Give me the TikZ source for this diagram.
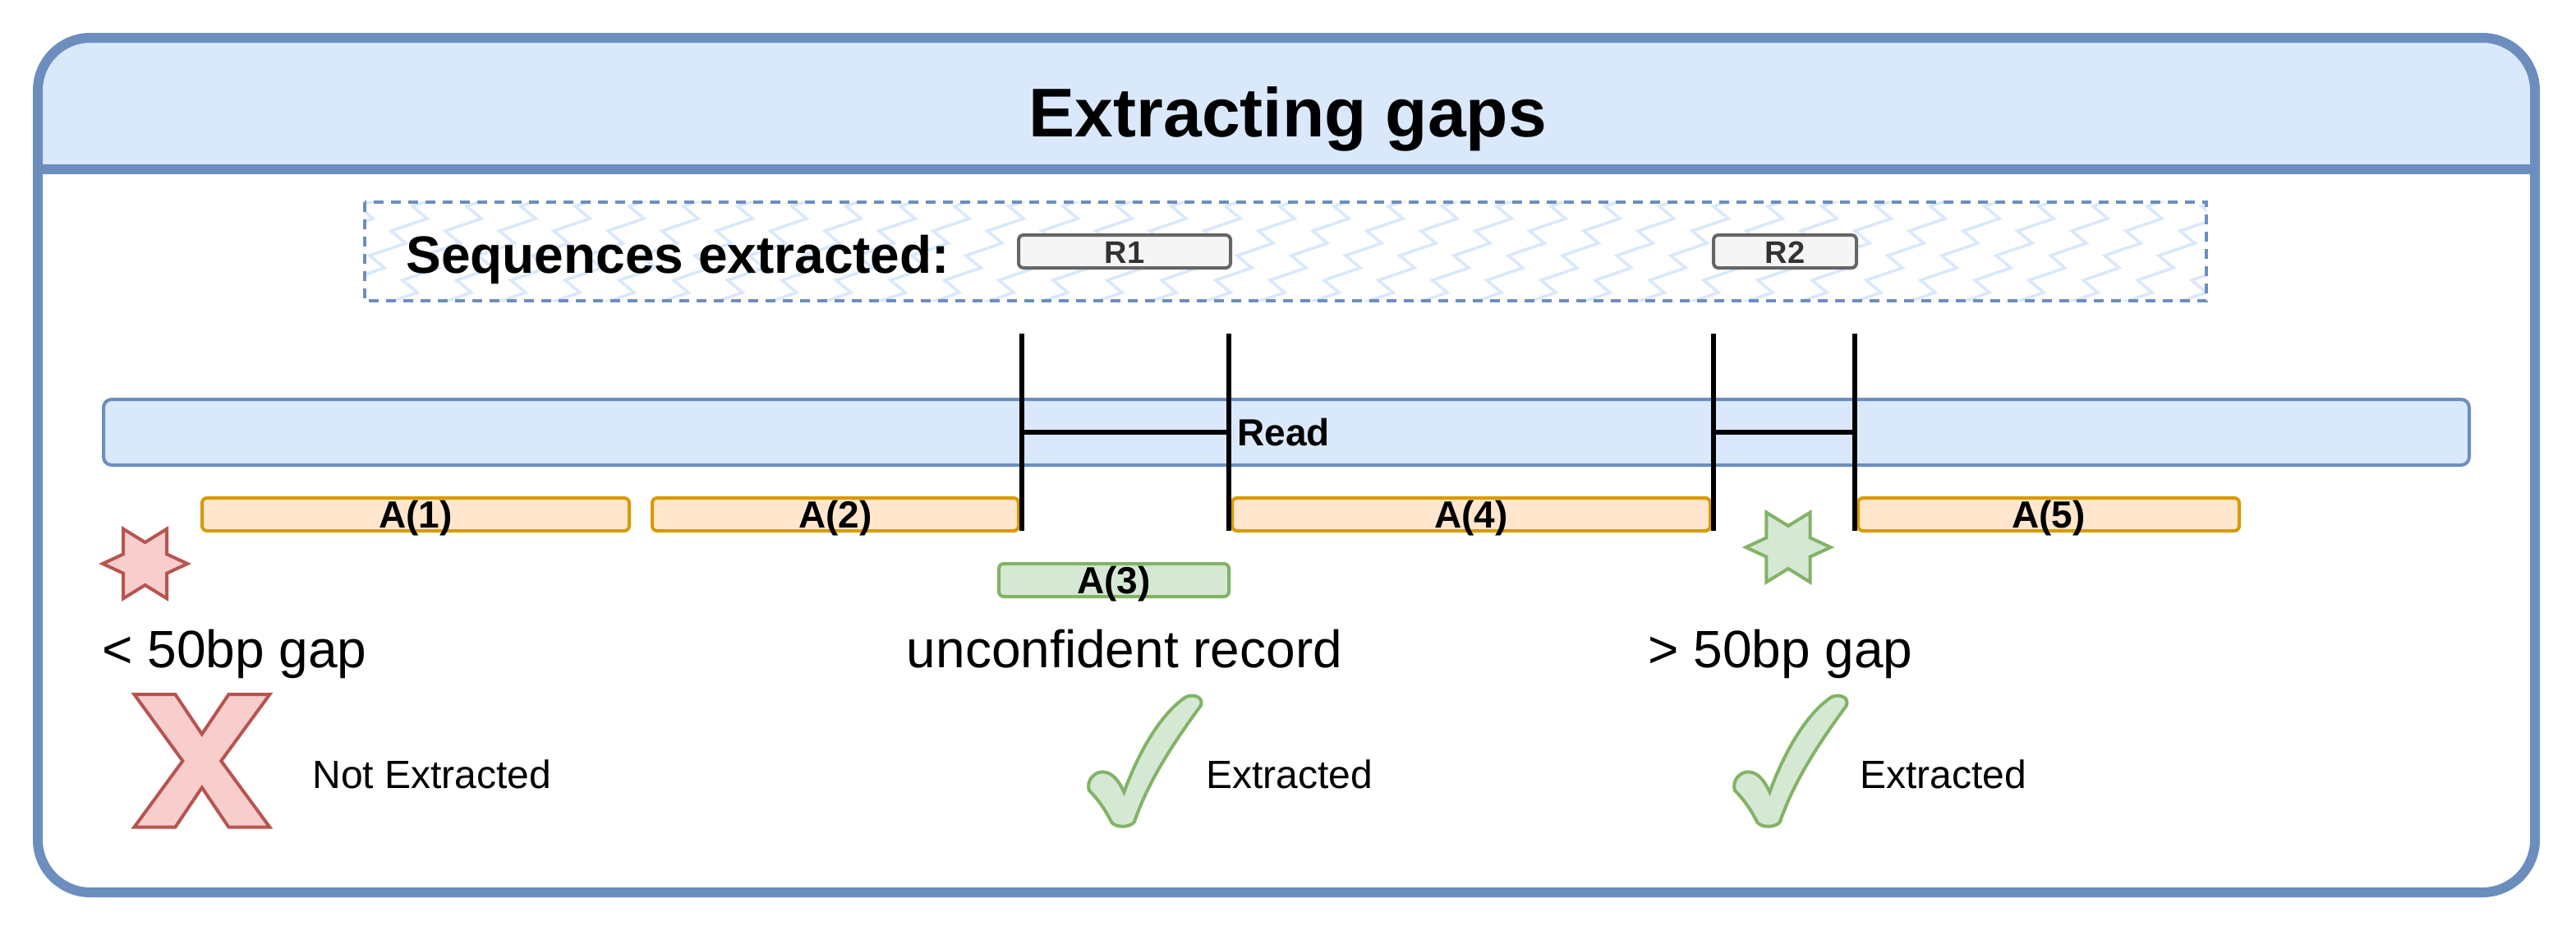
\documentclass[tikz,border=0pt]{standalone}
\usepackage{fontspec}
\setmainfont{Liberation Sans}
\usetikzlibrary{positioning}

\begin{document}
\begin{tikzpicture}[x=1pt,y=1pt,yscale=-1,xscale=1,
  frame/.style={draw={rgb, 255:red, 108; green, 142; blue, 191 }, line width=6pt},
  headfill/.style={fill={rgb, 255:red, 218; green, 232; blue, 252 }},
  seqdash/.style={draw={rgb, 255:red, 108; green, 142; blue, 191 }, line width=2pt, dash pattern={on 6pt off 4.5pt}},
  zigline/.style={draw={rgb, 255:red, 218; green, 232; blue, 252 }, line width=1.8pt},
  readbar/.style={draw={rgb, 255:red, 108; green, 142; blue, 191 }, fill={rgb, 255:red, 218; green, 232; blue, 252 }, line width=2pt, rounded corners=5pt, minimum height=40pt, inner sep=0pt},
  abar/.style={draw={rgb, 255:red, 215; green, 155; blue, 0 }, fill={rgb, 255:red, 255; green, 230; blue, 204 }, line width=2pt, rounded corners=3pt, minimum height=20pt, inner sep=0pt, text height=16.5pt, text depth=0pt, font=\fontsize{23}{23}\selectfont\bfseries},
  gbar/.style={abar, draw={rgb, 255:red, 130; green, 179; blue, 102 }, fill={rgb, 255:red, 213; green, 232; blue, 212 }},
  rbox/.style={draw={rgb, 255:red, 102; green, 102; blue, 102 }, fill={rgb, 255:red, 245; green, 245; blue, 245 }, text={rgb, 255:red, 51; green, 51; blue, 51 }, line width=2pt, rounded corners=3pt, minimum height=20pt, inner sep=0pt, text height=14pt, text depth=0pt, font=\fontsize{19}{19}\selectfont\bfseries},
  tick/.style={line width=3.3pt},
  goodshape/.style={draw={rgb, 255:red, 130; green, 179; blue, 102 }, fill={rgb, 255:red, 213; green, 232; blue, 212 }, line width=2pt},
  badshape/.style={draw={rgb, 255:red, 184; green, 84; blue, 80 }, fill={rgb, 255:red, 248; green, 206; blue, 204 }, line width=2pt},
  biglbl/.style={font=\fontsize{32}{32}\selectfont, inner sep=0pt},
  smalllbl/.style={font=\fontsize{24}{24}\selectfont, inner sep=0pt}
]
\useasboundingbox (0,0) rectangle (1568,566);

%Shape: Container header
\begin{scope}
\clip (0,0) rectangle (1568,103);
\fill [headfill, rounded corners=32pt] (23,23) rectangle (1543,200);
\end{scope}
%Shape: Container frame
\draw [frame, rounded corners=32pt] (23,23) rectangle (1543,543);
\draw [frame] (23,103) -- (1543,103);

% Text Node
\node [anchor=base, inner sep=0pt, font=\fontsize{42}{42}\selectfont\bfseries] (title) at (784,83) {Extracting gaps};

%Shape: Sequences box
\node [minimum width=1121pt, minimum height=60pt, inner sep=0pt] (seq) at (782.5,153) {};
\begin{scope}
\clip (seq.north west) rectangle (seq.south east);
\foreach \x in {240,273,...,1440}
  \draw [zigline] (\x,118) \foreach \k in {1,...,5} { -- ++(-22,7.5) -- ++(9,7.5) };
\end{scope}
\draw [seqdash] (seq.north west) rectangle (seq.south east);

% Text Node
\node [anchor=base west, inner sep=0pt, font=\fontsize{32}{32}\selectfont\bfseries] (seqlbl) at (247,166) {Sequences extracted:};
\node [rbox, minimum width=129pt] (r1) at (684.5,153) {R1};
\node [rbox, minimum width=87pt] (r2) at (1086.5,153) {R2};

%Shape: Read
\node [readbar, minimum width=1440pt] (read) at (783,263) {};

%Shape: Alignments
\node [abar, minimum width=260pt] (a1) at (253,313) {A(1)};
\node [abar, minimum width=223pt] (a2) at (508.5,313) {A(2)};
\node [gbar, minimum width=140pt] (a3) at (678,353) {A(3)};
\node [abar, minimum width=291pt] (a4) at (895.5,313) {A(4)};
\node [abar, minimum width=232pt] (a5) at (1247,313) {A(5)};

%Straight Lines
\coordinate (t1) at (622,203);
\coordinate (t2) at (748,203);
\coordinate (t3) at (1043,203);
\coordinate (t4) at (1129,203);
\coordinate (b1) at (622,323);
\coordinate (b2) at (748,323);
\coordinate (b3) at (1043,323);
\coordinate (b4) at (1129,323);
\foreach \i in {1,...,4}
  \draw [tick] (t\i) -- (b\i);
\draw [tick] (t1 |- read.center) -- (t2 |- read.center);
\draw [tick] (t3 |- read.center) -- (t4 |- read.center);

% Text Node
\node [anchor=west, inner sep=0pt, font=\fontsize{23}{23}\selectfont\bfseries] (readlbl) at (753,263) {Read};

%Shape: Star
\draw [badshape, shift={(88.3,343)}] (-13.3,-21.2) -- (0,-13) -- (13.3,-21.2) -- (13.3,-5.8) -- (25.8,0) -- (13.3,5.8) -- (13.3,21.2) -- (0,13) -- (-13.3,21.2) -- (-13.3,5.8) -- (-25.8,0) -- (-13.3,-5.8) -- cycle;
%Shape: Star
\draw [goodshape, shift={(1088.5,333)}] (-13.3,-21.2) -- (0,-13) -- (13.3,-21.2) -- (13.3,-5.8) -- (25.8,0) -- (13.3,5.8) -- (13.3,21.2) -- (0,13) -- (-13.3,21.2) -- (-13.3,5.8) -- (-25.8,0) -- (-13.3,-5.8) -- cycle;

% Text Node
\node [biglbl, anchor=base west] (lowgap) at (62,406) {< 50bp gap};
% Text Node
\node [biglbl, anchor=base] (unconf) at (684.5,406) {unconfident record};
% Text Node
\node [biglbl, anchor=base west] (highgap) at (1003,406) {> 50bp gap};

%Shape: Cross
\draw [badshape] (81.7,422.5) -- (106.7,422.5) -- (122.9,446.7) -- (139.2,422.5) -- (164.2,422.5) -- (134.6,463) -- (164.2,503.3) -- (139.2,503.3) -- (122.9,479.2) -- (106.7,503.3) -- (81.7,503.3) -- (111.2,463) -- cycle;

%Shape: Check
\draw [goodshape, shift={(662,423)}] (22.2,59) .. controls (32,32) and (46,10) .. (60,1) .. controls (65,-1) and (71,1.5) .. (68.8,6.5) .. controls (53,28) and (37,52) .. (28.5,77) .. controls (26,80.5) and (18,81) .. (14.7,77.5) .. controls (10,68) and (5,62) .. (1,58) .. controls (-1,52) and (4,46.7) .. (9,46.7) .. controls (15,46.7) and (19,52) .. (22.2,59) -- cycle;
%Shape: Check
\draw [goodshape, shift={(1055,423)}] (22.2,59) .. controls (32,32) and (46,10) .. (60,1) .. controls (65,-1) and (71,1.5) .. (68.8,6.5) .. controls (53,28) and (37,52) .. (28.5,77) .. controls (26,80.5) and (18,81) .. (14.7,77.5) .. controls (10,68) and (5,62) .. (1,58) .. controls (-1,52) and (4,46.7) .. (9,46.7) .. controls (15,46.7) and (19,52) .. (22.2,59) -- cycle;

% Text Node
\node [smalllbl, anchor=base west] (notext) at (190,479.5) {Not Extracted};
% Text Node
\node [smalllbl, anchor=base west] (ext1) at (734,479.5) {Extracted};
% Text Node
\node [smalllbl, anchor=base west] (ext2) at (1132,479.5) {Extracted};

\end{tikzpicture}
\end{document}
